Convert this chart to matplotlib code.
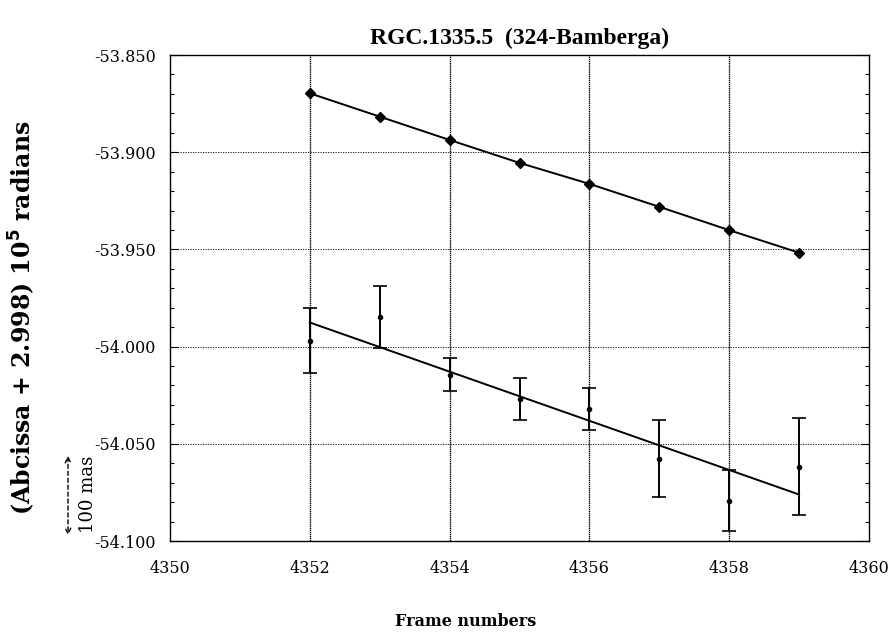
import matplotlib
matplotlib.use("Agg")
import matplotlib.pyplot as plt
from matplotlib.ticker import MultipleLocator, FormatStrFormatter

# ---- data ----
frames = [4352, 4353, 4354, 4355, 4356, 4357, 4358, 4359]
upper_vals = [-53.8697, -53.8817, -53.8937, -53.9055, -53.9163, -53.9281, -53.9401, -53.9517]
lower_vals = [-53.9971, -53.9848, -54.0145, -54.0268, -54.0321, -54.0576, -54.0792, -54.0617]
lower_err = [0.0167, 0.0160, 0.0085, 0.0108, 0.0106, 0.0200, 0.0158, 0.0250]
fit_x = [4352, 4359]
fit_y = [-53.9876, -54.0761]
x_ticks = [4350, 4352, 4354, 4356, 4358, 4360]
y_ticks = [-54.100, -54.050, -54.000, -53.950, -53.900, -53.850]

plt.rcParams['font.family'] = ['DejaVu Serif']

fig = plt.figure(figsize=(8.92, 6.36), dpi=100)
ax = fig.add_axes([170/892, 1-541/636, (869-170)/892, (541-55)/636])

ax.set_xlim(4350, 4360)
ax.set_ylim(-54.100, -53.850)
ax.set_xticks(x_ticks)
ax.set_yticks(y_ticks)
ax.yaxis.set_major_formatter(FormatStrFormatter('%.3f'))
ax.yaxis.set_minor_locator(MultipleLocator(0.01))
ax.tick_params(axis='both', which='both', direction='in', right=True, top=False,
               labelsize=11.5, width=0.8)
ax.tick_params(axis='both', which='major', length=6, pad=10)
ax.tick_params(axis='y', which='minor', length=3)
ax.tick_params(axis='x', which='major', length=0, pad=14)

# gridlines
for x in x_ticks[1:-1]:
    ax.axvline(x, color='black', lw=1.0, ls=(0, (1, 0.5)), zorder=1)
for y in y_ticks[1:-1]:
    ax.axhline(y, color='black', lw=0.6, ls=(0, (1.5, 1.5)), zorder=1)

# upper series
ax.plot(frames, upper_vals, color='black', lw=1.4, marker='D', ms=5, zorder=3)

# lower series
ax.errorbar(frames, lower_vals, yerr=lower_err, fmt='o', color='black', ms=3,
            elinewidth=1.4, capsize=5, capthick=1.2, zorder=3)
ax.plot(fit_x, fit_y, color='black', lw=1.4, zorder=3)

for s in ax.spines.values():
    s.set_linewidth(1.0)

fig.text(520/892, 1-38/636, 'RGC.1335.5  (324-Bamberga)', ha='center', va='center',
         fontsize=17, fontweight='bold', family=['Liberation Serif'])
fig.text(466/892, 1-622/636, 'Frame numbers', ha='center', va='center',
         fontsize=11.5, fontweight='bold')
fig.text(22/892, 1-318/636, '(Abcissa + 2.998) 10$^{\\mathbf{5}}$ radians', ha='center',
         va='center', rotation=90, fontsize=17, fontweight='bold')

# 100 mas scale annotation
fig.text(88/892, 1-494/636, '100 mas', ha='center', va='center', rotation=90, fontsize=13)
ax.annotate('', xy=(68/892, 1-538/636), xytext=(68/892, 1-453/636),
            xycoords='figure fraction', textcoords='figure fraction',
            arrowprops=dict(arrowstyle='<->', ls=(0, (3, 2)), lw=1.0, color='black'))

fig.savefig('out.png', dpi=100)
